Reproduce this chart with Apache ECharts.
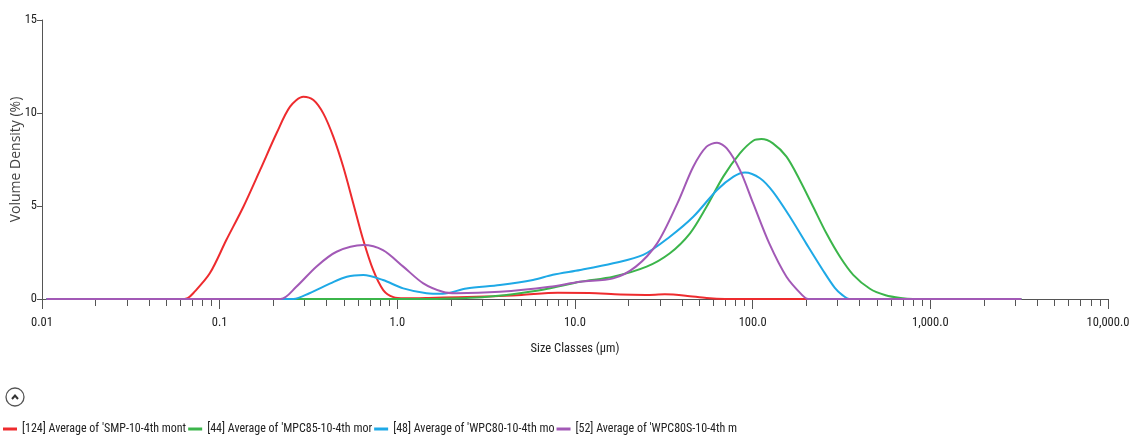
<!DOCTYPE html>
<html>
<head>
<meta charset="utf-8">
<script src="https://cdn.jsdelivr.net/npm/echarts@6/dist/echarts.min.js"></script>
<style>
html,body{margin:0;padding:0;background:#fff;}
#chart{width:1135px;height:438px;}
</style>
</head>
<body>
<div id="chart"></div>
<script>
// ---- data ----
const seriesNames = [
  "[124] Average of 'SMP-10-4th month'",
  "[44] Average of 'MPC85-10-4th month'",
  "[48] Average of 'WPC80-10-4th month'",
  "[52] Average of 'WPC80S-10-4th month'"
];
// legend text as visibly clipped in the reference
const legendLabels = [
  "[124] Average of 'SMP-10-4th mont",
  "[44] Average of 'MPC85-10-4th mor",
  "[48] Average of 'WPC80-10-4th mo",
  "[52] Average of 'WPC80S-10-4th m"
];
const seriesColors = ['#ee2b2e', '#3bb54a', '#1ea9e6', '#a259b6'];

const smpSize = [0.0106, 0.06, 0.066, 0.071, 0.088, 0.109, 0.136, 0.169, 0.209, 0.249, 0.296, 0.337, 0.383, 0.436, 0.496, 0.565, 0.643, 0.731, 0.833, 0.95, 1.1, 1.5, 2.2, 3.5, 5, 8, 12, 18, 25, 32, 42, 55, 70, 3250];
const smpVal  = [0, 0, 0.05, 0.31, 1.38, 3.17, 4.96, 6.94, 8.91, 10.34, 10.88, 10.7, 9.98, 8.73, 7.11, 5.14, 3.17, 1.56, 0.48, 0.1, 0.04, 0.06, 0.1, 0.15, 0.22, 0.33, 0.32, 0.24, 0.22, 0.25, 0.18, 0.05, 0, 0];

const mpcSize = [0.0106, 1.5, 2, 3, 4, 5, 7, 10.7, 16.4, 25.3, 34.2, 44.4, 55, 68.3, 84.7, 100.7, 112, 130, 155, 184, 219, 260, 310, 368, 457, 560, 680, 800, 3250];
const mpcVal  = [0, 0, 0.03, 0.1, 0.2, 0.32, 0.55, 0.93, 1.2, 1.74, 2.46, 3.53, 4.96, 6.58, 7.83, 8.51, 8.6, 8.37, 7.65, 6.4, 4.96, 3.53, 2.27, 1.3, 0.55, 0.2, 0.05, 0, 0];

const wpcSize = [0.0106, 0.26, 0.32, 0.42, 0.52, 0.643, 0.83, 1.08, 1.46, 1.8, 2.45, 3.78, 5.8, 7.5, 10.7, 16.4, 24.2, 34.2, 46.3, 63, 78, 90.5, 110, 130, 162, 200, 248, 290, 320, 350, 3250];
const wpcVal  = [0, 0, 0.31, 0.84, 1.2, 1.29, 1.02, 0.57, 0.31, 0.28, 0.57, 0.75, 1.02, 1.3, 1.56, 1.92, 2.37, 3.35, 4.42, 5.86, 6.58, 6.8, 6.49, 5.77, 4.42, 2.99, 1.56, 0.6, 0.21, 0, 0];

const wpcsSize = [0.0106, 0.22, 0.27, 0.35, 0.455, 0.643, 0.83, 1.08, 1.4, 1.8, 2.15, 3.78, 7.2, 10.7, 16.4, 22, 29, 37.7, 46.3, 55, 63, 71.5, 84.7, 100.7, 124, 155, 190, 205, 3250];
const wpcsVal  = [0, 0, 0.66, 1.74, 2.54, 2.9, 2.63, 1.74, 0.84, 0.39, 0.31, 0.39, 0.66, 0.93, 1.11, 1.74, 2.99, 5.14, 7.11, 8.19, 8.4, 8.1, 6.94, 5.14, 2.99, 1.2, 0.21, 0, 0];

const xMajorTicks = [0.01, 0.1, 1, 10, 100, 1000, 10000];
const xTickLabels = ['0.01', '0.1', '1.0', '10.0', '100.0', '1,000.0', '10,000.0'];
const xMinorTicks = [0.02,0.03,0.04,0.05,0.06,0.07,0.08,0.09,
  0.2,0.3,0.4,0.5,0.6,0.7,0.8,0.9,
  2,3,4,5,6,7,8,9,
  20,30,40,50,60,70,80,90,
  200,300,400,500,600,700,800,900,
  2000,3000,4000,5000,6000,7000,8000,9000];
const yTicks = [0, 5, 10, 15];

// ---- chart ----
const narrow = "'Roboto Condensed', 'Liberation Sans', sans-serif";
const sizes = [smpSize, mpcSize, wpcSize, wpcsSize];
const vals = [smpVal, mpcVal, wpcVal, wpcsVal];

const chart = echarts.init(document.getElementById('chart'), null, {renderer: 'canvas'});
chart.setOption({
  animation: false,
  backgroundColor: '#fff',
  grid: {left: 42, right: 27, top: 20, bottom: 139, containLabel: false, outerBoundsMode: 'none'},
  xAxis: [{
    type: 'log', min: 0.01, max: 10000, logBase: 10,
    position: 'bottom',
    name: 'Size Classes (µm)', nameLocation: 'middle', nameGap: 43, nameMoveOverlap: false,
    nameTextStyle: {fontFamily: narrow, fontSize: 12.5, color: '#222'},
    axisLine: {show: true, lineStyle: {color: '#555', width: 1}},
    axisTick: {show: true, length: 10, customValues: xMajorTicks, lineStyle: {color: '#555'}},
    axisLabel: {customValues: xMajorTicks, margin: 17, fontFamily: narrow, fontSize: 12.5, color: '#222',
      formatter: v => { const i = xMajorTicks.findIndex(t => Math.abs(Math.log10(t) - Math.log10(v)) < 1e-6); return i >= 0 ? xTickLabels[i] : ''; }},
    splitLine: {show: false}, minorTick: {show: false}
  }, {
    type: 'log', min: 0.01, max: 10000, logBase: 10,
    position: 'bottom', gridIndex: 0,
    axisLine: {show: false},
    axisTick: {show: true, length: 7, customValues: xMinorTicks, lineStyle: {color: '#555'}},
    axisLabel: {show: false},
    splitLine: {show: false}
  }],
  yAxis: {
    type: 'value', min: 0, max: 15, interval: 5,
    name: 'Volume Density (%)', nameLocation: 'middle', nameGap: 19, nameMoveOverlap: false,
    nameTextStyle: {fontFamily: "'Open Sans', 'Noto Sans', sans-serif", fontSize: 14, color: '#444'},
    axisLine: {show: true, lineStyle: {color: '#555'}},
    axisTick: {show: true, length: 5, lineStyle: {color: '#555'}},
    axisLabel: {margin: 5, fontFamily: narrow, fontSize: 12.5, color: '#222'},
    splitLine: {show: false}
  },
  legend: {
    left: -2, top: 418, itemGap: 2, itemWidth: 14, itemHeight: 3, icon: 'rect',
    textStyle: {fontFamily: narrow, fontSize: 12, color: '#222'},
    formatter: name => legendLabels[seriesNames.indexOf(name)],
    data: seriesNames
  },
  graphic: [
    {type: 'circle', shape: {cx: 15, cy: 397, r: 9}, style: {fill: '#fff', stroke: '#555', lineWidth: 1.3}},
    {type: 'polyline', shape: {points: [[12, 399], [15, 395.5], [18, 399]]}, style: {fill: 'none', stroke: '#333', lineWidth: 2}}
  ],
  series: seriesNames.map((n, k) => ({
    name: n, type: 'line', xAxisIndex: 0,
    showSymbol: false, smooth: 0.3,
    color: seriesColors[k],
    lineStyle: {width: 2, color: seriesColors[k]},
    data: sizes[k].map((s, i) => [s, vals[k][i]])
  }))
});
</script>
</body>
</html>
